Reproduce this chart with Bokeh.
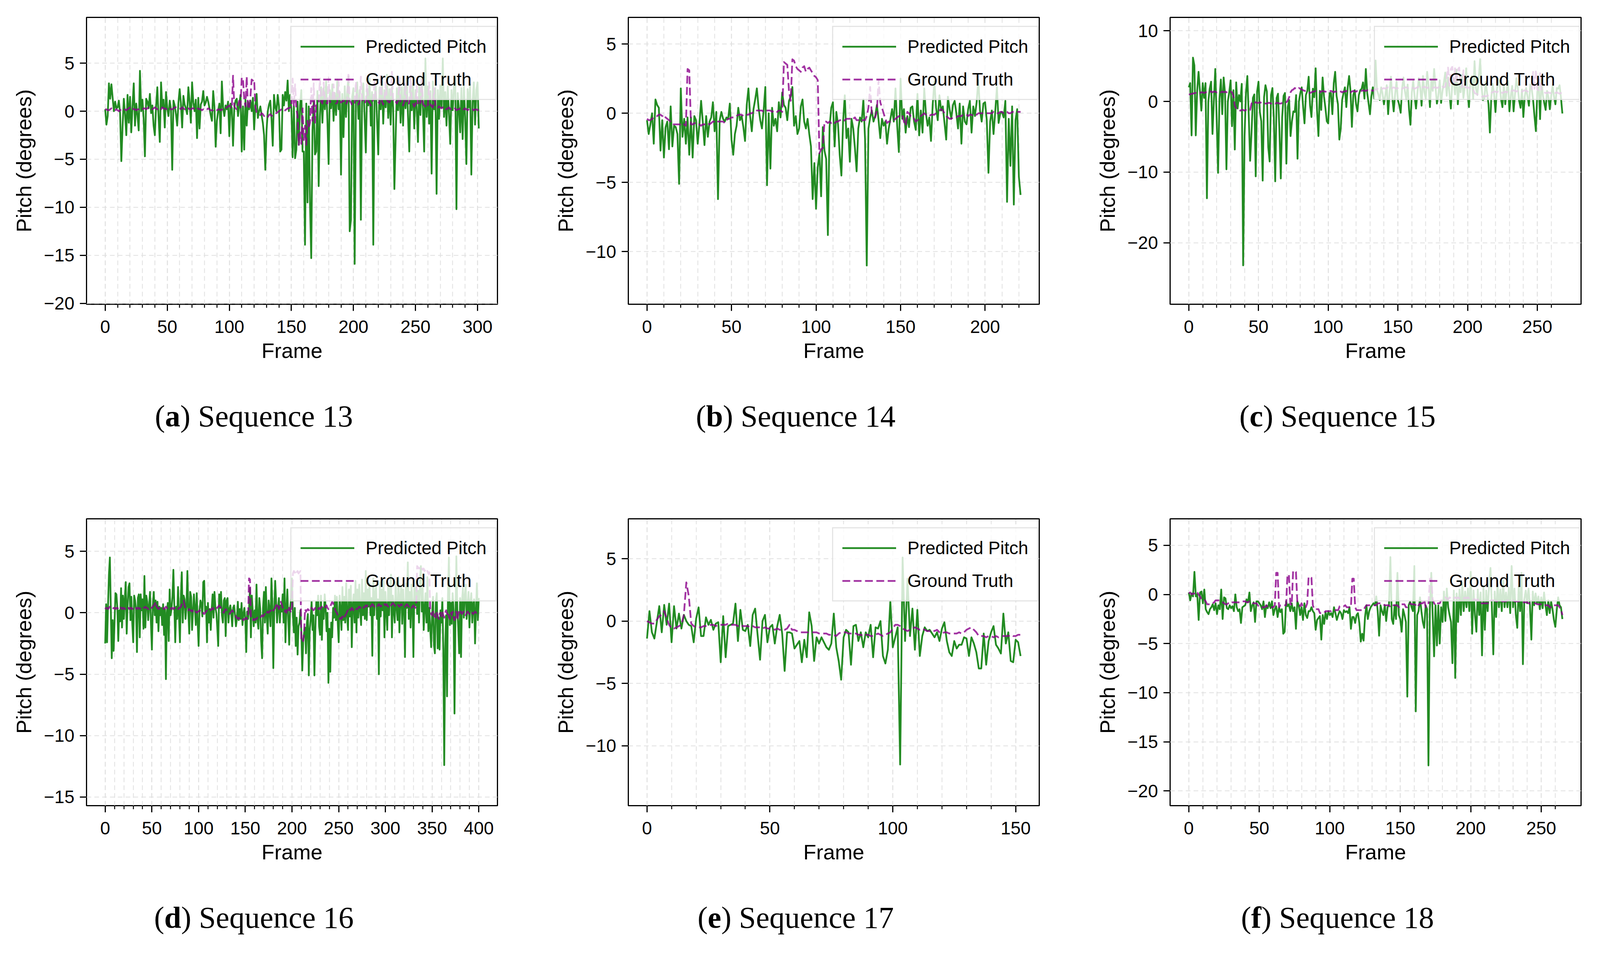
from bokeh.plotting import figure
from bokeh.layouts import column, row
from bokeh.models import FixedTicker, Legend, LegendItem, Div, CustomJSTickFormatter
from bokeh.embed import file_html
from bokeh.resources import INLINE

# ---- data (one value per frame) ----
seq13_pred = [
    0.2, -1.4, -0.5, 2.9, 1.3, 2.8, 1.4, 0.0, 1.0, 0.3,
    0.4, 1.1, -0.2, -5.2, -1.6, 1.3, -0.3, -2.5, 1.7, -1.2,
    1.5, -2.2, 0.5, 2.9, -1.5, 0.8, -0.4, -2.0, 4.2, 0.0,
    1.2, -0.8, -4.7, 1.3, 1.0, 0.3, 1.8, -0.2, 0.6, -1.5,
    -2.5, 0.5, 2.5, -0.6, -3.2, 3.0, 0.4, 1.2, -1.7, 2.0,
    0.3, -0.5, 1.1, 0.2, -6.1, 1.1, 0.6, -0.3, -1.5, 0.9,
    2.3, 0.8, -1.7, 1.6, 0.7, 0.3, -0.3, 2.5, 1.0, -1.2,
    3.0, 0.9, 0.0, 1.2, -2.8, 1.4, -1.8, 0.7, 1.0, 2.1,
    0.6, 0.9, 1.5, 1.0, 0.3, -0.4, -1.0, 2.1, 0.5, -3.7,
    -1.0, 0.0, 0.8, -2.3, 3.1, 0.4, -0.5, 0.6, 0.2, 1.0,
    -2.6, 0.8, 0.3, -3.6, 0.3, 1.1, 1.3, -0.5, 0.6, 1.7,
    -4.2, 0.5, -4.0, 1.2, -1.5, 1.0, 0.2, 1.1, 0.0, 1.4,
    -1.9, 0.6, 1.8, -0.7, 0.0, 0.5, -0.4, -1.2, -2.5, -6.1,
    -2.0, 0.0, 0.7, 1.1, -0.8, -3.6, 1.7, 0.4, 0.0, 1.7,
    0.5, -4.2, -4.0, 1.7, 0.6, 2.0, 1.1, 3.2, 0.0, 1.7,
    0.3, -4.8, 0.5, -4.9, -4.0, 1.0, -3.5, 0.6, 2.2, -4.2,
    -4.2, -13.9, 0.8, -9.5, 0.5, -9.5, -15.3, -2.0, 1.0, -4.5,
    -4.2, 2.1, -7.8, -0.5, 2.5, -1.2, 2.4, 0.2, 3.1, -0.8,
    -5.5, 2.2, 0.3, 2.8, -1.0, 1.9, -0.4, 3.3, 0.2, 2.0,
    -6.6, 1.8, -2.7, 2.6, -0.6, 2.1, 3.6, -12.5, -11.3, 1.5,
    2.4, -15.9, 1.0, 3.0, -0.8, 2.2, -11.3, 1.6, 2.9, -0.6,
    -4.3, 2.3, 0.6, 3.4, -1.5, 2.0, -13.9, 1.2, 2.7, -0.9,
    -4.5, 2.5, 0.2, 3.1, -1.3, 2.2, 0.4, 3.8, -0.7, 2.3,
    -1.4, 2.6, 0.4, -8.1, -2.8, 2.4, 0.1, 3.2, -1.2, 2.5,
    -1.5, 2.8, 0.3, 3.4, -0.6, -4.2, 2.6, 0.1, 2.9, -1.8,
    2.2, 0.3, -3.2, 2.7, -0.4, 3.5, 0.2, -4.2, 5.5, -0.6,
    2.6, -1.3, 2.1, -6.5, 3.1, 0.2, 2.4, -8.6, 2.2, -0.8,
    2.7, 0.4, 5.5, -0.6, 2.0, -1.5, 2.6, -0.3, -3.4, 2.2,
    0.1, 2.5, 3.6, -10.2, 1.9, 0.2, -2.2, 2.4, -2.9, 2.6,
    -0.6, -5.5, 2.3, 0.4, 2.8, -6.6, 0.9, 3.0, -1.4, 2.2,
    3.0, -1.8,
]
seq13_gt = [
    0.2, 0.2, 0.1, 0.1, 0.2, 0.3, 0.2, 0.1, 0.1, 0.2,
    0.1, 0.0, 0.1, 0.2, 0.1, 0.1, 0.2, 0.1, 0.2, 0.3,
    0.4, 0.5, 0.3, 0.2, 0.2, 0.1, 0.2, 0.2, 0.3, 0.2,
    0.2, 0.3, 0.3, 0.2, 0.3, 0.4, 0.3, 0.3, 0.2, 0.3,
    0.4, 0.3, 0.2, 0.2, 0.3, 0.2, 0.4, 0.3, 0.3, 0.2,
    0.3, 0.4, 0.3, 0.2, 0.2, 0.3, 0.4, 0.4, 0.3, 0.3,
    0.3, 0.2, 0.4, 0.3, 0.2, 0.2, 0.1, 0.3, 0.2, 0.2,
    0.3, 0.3, 0.2, 0.1, 0.2, 0.3, 0.2, 0.2, 0.1, 0.2,
    0.1, 0.2, 0.2, 0.3, 0.2, 0.1, 0.1, 0.1, 0.2, 0.1,
    0.1, 0.2, 0.2, 0.1, 0.2, 0.1, 0.2, 0.3, 0.4, 0.5,
    0.6, 0.4, 0.3, 3.7, 0.5, 0.3, 0.2, 0.6, 1.1, 0.4,
    3.5, 3.4, 1.3, 0.5, 3.6, 0.6, 0.2, 1.5, 3.3, 3.2,
    3.3, 0.4, -0.1, -0.2, -0.3, -0.4, -0.2, -0.3, -0.5, -0.4,
    -0.5, -0.6, -0.4, -0.3, -0.5, -0.4, -0.3, -0.2, -0.2, -0.1,
    0.0, 0.1, 0.2, 0.3, 0.2, 0.1, 0.2, 0.3, 0.3, 0.4,
    0.4, 3.4, 0.5, 2.8, 0.3, -0.5, -3.5, -2.2, -3.4, 0.3,
    -3.0, -1.5, -3.5, -1.0, -1.8, -1.2, 2.4, -1.0, 2.9, -1.2,
    0.6, 0.7, 0.9, 3.4, 1.0, 0.8, 3.0, 1.1, 0.9, 0.8,
    3.5, 1.0, 0.9, 1.2, 2.8, 1.0, 0.8, 0.9, 3.2, 1.1,
    0.9, 1.0, 1.2, 0.8, 0.7, 1.0, 4.0, 1.1, 0.9, 0.6,
    0.7, 0.9, 3.1, 0.8, 0.7, 1.0, 3.6, 1.2, 1.0, 0.8,
    1.1, 2.8, 1.0, 0.9, 0.6, 1.0, 1.2, 3.3, 1.4, 1.1,
    1.0, 0.8, 3.9, 1.0, 0.7, 1.1, 3.0, 1.2, 1.0, 0.9,
    1.3, 4.1, 1.2, 0.9, 1.0, 0.8, 1.1, 3.5, 0.9, 0.8,
    0.6, 1.0, 2.9, 0.8, 0.7, 0.9, 3.7, 1.1, 0.8, 0.5,
    0.7, 2.6, 0.8, 0.6, 0.9, 3.3, 0.8, 0.6, 0.5, 0.8,
    0.6, 3.0, 0.7, 0.5, 0.4, 2.4, 0.6, 0.4, 0.3, 0.5,
    0.4, 0.3, 0.4, 0.2, 0.3, 0.2, 0.3, 0.4, 0.2, 0.3,
    0.2, 0.2, 0.3, 0.1, 0.2, 0.2, 0.3, 0.2, 0.1, 0.2,
    0.3, 0.2, 0.1, 0.2, 0.2, 0.3, 0.2, 0.1, 0.2, 0.2,
    0.1, 0.2,
]

seq14_pred = [
    -0.5, -1.5, -0.8, 0.0, -2.2, 1.0, 0.6, 0.4, -2.7, -0.5,
    -3.2, -1.0, -0.6, -2.6, 0.5, -2.4, -0.9, -1.0, -1.5, -5.1,
    1.8, -1.7, -0.4, -2.2, -0.3, -3.0, -0.3, -3.2, -0.2, -0.5,
    -2.2, -0.8, 0.9, -0.6, -2.3, -0.2, -1.7, -0.6, -0.3, 0.8,
    -1.3, 0.1, -6.2, -0.5, 0.1, -0.4, -0.6, -0.3, -0.4, 0.7,
    -1.9, -3.0, -1.5, -0.9, 0.4, -0.5, -0.2, -1.0, -2.0, 0.6,
    1.8, -0.2, -1.3, 0.3, 1.0, 1.8, 0.4, -0.5, -1.1, 0.2,
    1.9, -5.2, 0.0, -4.0, 0.4, -0.9, -0.4, -1.3, 0.8, -0.3,
    1.5, 0.6, 0.4, -0.5, 0.9, 1.2, 1.9, -0.9, -0.2, -1.5,
    -1.1, 0.5, 1.0, -0.6, -1.1, -0.4, -1.5, -2.4, -6.2, -3.6,
    -6.9, -3.9, -2.9, -6.0, -1.0, -2.7, -3.3, -8.8, -1.0, 0.4,
    0.8, -2.4, 0.1, -0.8, -3.0, -4.5, -0.6, 1.3, -1.8, -1.1,
    -3.5, -0.4, -1.1, -2.5, -4.2, -1.1, -0.3, -0.6, 1.0, -1.9,
    -11.0, -1.1, -0.3, 0.2, -0.6, -0.2, 0.6, -0.5, -1.8, -0.4,
    -0.9, -0.6, -2.2, -1.1, -0.4, 0.3, -0.6, 1.8, -0.9, -2.8,
    2.5, -0.4, 0.3, -1.4, -0.2, -1.0, 0.4, 0.5, -0.6, -1.2,
    1.4, -1.6, 0.2, -1.4, 1.8, 0.0, -0.9, -0.3, -2.0, 0.6,
    2.3, 0.4, -0.5, 1.3, 0.2, 0.5, -0.7, -1.9, 1.2, 0.3,
    -0.4, 0.6, 0.9, 0.0, -1.1, 0.7, -2.2, 0.5, -0.6, -0.8,
    0.3, 0.9, -1.4, 0.5, -0.2, 0.8, 2.4, 0.2, -0.6, 0.7,
    0.8, -0.5, -4.3, -0.6, 0.2, -1.5, 0.1, 1.9, -0.7, 0.0,
    0.1, -0.3, 0.9, -6.4, -0.4, -3.8, 0.5, -6.6, -0.5, 0.3,
    -4.6, -5.9,
]
seq14_gt = [
    -0.4, -0.5, -0.5, -0.4, -0.3, -0.2, -0.2, -0.1, -0.1, -0.2,
    -0.1, -0.3, -0.4, -0.5, -0.6, -0.8, -0.8, -0.8, -0.8, -0.8,
    -0.8, -0.9, -0.8, -0.9, 3.2, 3.1, -0.8, -0.8, -0.7, -0.8,
    -0.8, -0.8, -0.9, -0.8, -0.8, -0.8, -0.7, -0.8, -0.7, -0.6,
    -0.6, -0.5, -0.6, -0.6, -0.6, -0.6, -0.7, -0.5, -0.4, -0.4,
    -0.3, -0.3, -0.3, -0.2, -0.1, -0.1, -0.1, -0.2, -0.1, -0.1,
    -0.1, 0.0, 0.0, 0.1, 0.1, 0.2, 0.2, 0.2, 0.2, 0.1,
    0.1, 0.2, 0.2, 0.2, 0.1, 0.2, 0.2, 0.1, 0.2, 0.2,
    0.1, 3.7, 3.6, 3.5, 1.6, 0.9, 3.9, 3.8, 3.4, 3.2,
    3.1, 3.0, 3.3, 3.4, 3.0, 3.2, 3.3, 3.1, 2.9, 2.7,
    2.6, 2.4, -2.9, -2.6, -2.5, -0.6, -0.6, -0.7, -0.6, -0.7,
    -0.6, -0.7, -0.6, -0.6, -0.5, -0.5, -0.6, -0.5, -0.4, -0.4,
    -0.4, -0.3, -0.4, -0.3, -0.5, -0.5, -0.4, -0.5, -0.5, -0.5,
    -0.2, 0.4, 1.9, -0.1, -0.2, -0.3, 0.2, 2.4, 0.8, 0.4,
    0.0, -0.4, -0.7, -0.6, -0.6, -0.5, -0.5, -0.4, -0.3, -0.2,
    -0.2, -0.1, -0.6, -0.9, 0.1, 0.0, -0.2, -0.2, -0.4, -0.6,
    -0.5, -0.4, -0.2, -0.1, 0.0, -0.1, -0.1, -0.2, -0.1, -0.1,
    -0.1, 0.0, 0.1, 0.2, 0.3, 0.2, 0.0, -0.2, -0.3, -0.4,
    -0.4, -0.3, -0.3, -0.3, -0.2, -0.2, -0.2, -0.1, -0.1, -0.1,
    -0.2, -0.1, -0.1, -0.2, -0.1, -0.1, 0.0, 0.0, 0.0, 0.0,
    0.0, 0.0, 0.0, 0.0, 0.0, 0.1, 0.0, 0.0, 0.0, 0.1,
    0.1, 0.0, 0.1, 0.1, 0.0, 0.0, 0.1, 0.1, 0.1, 0.1,
    0.1, 0.1,
]

seq15_pred = [
    2.0, 2.6, -4.8, 6.2, 5.1, -4.8, 1.5, 4.2, 1.5, -1.3,
    2.6, 0.5, 2.6, -13.7, 0.0, 1.8, 2.8, -4.6, 0.2, 4.6,
    -2.5, -10.1, 0.4, 3.1, -1.8, 3.4, 1.2, -9.6, 0.0, 1.3,
    3.0, -3.5, 1.6, -6.8, 2.7, -1.0, 0.9, 0.0, 2.5, -23.2,
    -4.9, 1.2, 3.6, -2.0, -8.4, -4.4, 0.5, 1.0, -10.6, 1.4,
    2.8, -1.5, -2.8, -11.2, 0.6, 2.3, 1.4, -6.5, -8.5, 0.9,
    1.9, -2.3, -11.3, 0.5, 1.1, -4.0, -10.9, -2.2, 0.8, 1.2,
    -8.8, -0.8, 0.2, -4.9, -2.8, -1.4, -1.5, 0.9, -8.1, 0.0,
    1.2, 2.0, -0.7, -3.1, 0.9, 1.5, 3.5, -0.6, -2.2, 1.8,
    0.6, 4.7, -1.3, -4.9, 1.5, -1.2, 3.4, 0.7, -0.9, -2.8,
    -3.1, 1.2, 1.2, -1.8, 2.6, 4.2, 0.8, -0.4, -5.4, -3.8,
    0.2, 1.2, 2.0, -0.8, 2.0, 3.6, 1.5, -3.6, 0.9, 1.6,
    -0.4, -1.4, 0.9, 1.6, 1.8, 2.7, 0.4, 4.6, 1.2, -0.3,
    -1.8, 0.8, 2.0, 0.4, 5.8, 1.6, 1.0, 0.2, 2.0, 1.1,
    -0.4, 0.9, 2.3, -1.8, 1.2, 3.5, 0.6, -1.4, 1.0, 2.8,
    0.2, -0.5, -1.6, 1.8, 3.4, 1.5, 0.3, 2.4, -1.1, -3.3,
    1.3, 2.9, 0.7, -1.0, 1.2, 3.3, 2.0, -0.6, 3.6, 1.3,
    0.4, 4.2, 2.2, -0.8, 3.1, 1.5, 4.6, 2.0, -0.3, 0.8,
    3.0, -0.2, 1.5, 2.7, 4.1, 0.8, 3.4, 1.1, -1.0, 2.5,
    3.3, 1.0, 4.5, -0.4, 2.2, 1.3, 3.8, 0.5, 2.1, 4.7,
    1.0, -0.8, 2.9, 3.6, 0.4, 5.7, 1.8, 0.9, 3.2, 6.0,
    2.1, 0.2, 0.4, 2.8, 1.2, -0.4, -4.4, 0.6, 2.5, 1.1,
    -1.5, 1.6, 3.2, 2.6, 0.3, -0.8, 2.4, -0.4, 1.5, 2.9,
    -1.4, 0.8, 2.2, -1.4, 1.0, 3.3, 2.0, 0.1, -0.9, 1.7,
    -2.2, 0.7, 1.9, 0.7, -0.6, 2.4, 1.8, 0.2, -2.1, -4.2,
    1.3, 2.6, -2.5, 3.1, 0.9, -0.2, -1.2, 1.5, 0.6, -1.1,
    0.8, 2.2, 0.7, -0.4, 1.9, 1.8, 2.3, 0.5, -1.7,
]
seq15_gt = [
    1.0, 1.0, 1.1, 1.1, 1.2, 1.2, 1.1, 1.2, 1.2, 1.3,
    1.3, 1.2, 1.3, 1.4, 1.3, 1.4, 1.4, 1.3, 1.4, 1.4,
    1.3, 1.4, 1.4, 1.3, 1.4, 1.3, 1.4, 1.3, 1.4, 1.3,
    1.4, 1.3, 0.8, -0.6, -1.0, -1.2, -1.2, -1.3, -1.2, -1.2,
    -1.3, -1.2, -1.2, -1.1, -1.2, -0.3, 0.0, -0.2, -0.1, -0.2,
    -0.2, -0.1, -0.2, -0.3, -0.2, -0.3, -0.3, -0.2, -0.2, -0.3,
    -0.3, -0.2, -0.3, -0.2, -0.2, -0.3, -0.3, -0.2, -0.1, -0.2,
    -0.1, 0.1, 0.6, 1.3, 1.6, 1.7, 1.9, 1.8, 1.7, 1.9,
    1.8, 1.7, 1.6, 1.5, 1.5, 1.4, 1.3, 1.2, 1.3, 1.4,
    1.4, 1.5, 1.4, 1.4, 1.3, 1.4, 1.5, 1.4, 1.4, 1.3,
    1.4, 1.4, 1.5, 1.4, 1.3, 1.4, 1.4, 1.5, 1.4, 1.4,
    1.3, 1.4, 1.4, 1.5, 1.4, 1.4, 1.3, 1.4, 1.5, 1.4,
    1.4, 1.5, 1.5, 1.4, 1.5, 1.6, 1.5, 1.5, 1.6, 1.5,
    1.6, 1.6, 1.5, 1.6, 1.7, 1.8, 1.7, 1.8, 1.9, 1.8,
    1.9, 1.8, 1.9, 2.0, 1.9, 1.8, 1.9, 2.0, 1.9, 1.8,
    1.9, 2.0, 1.9, 1.8, 1.9, 2.0, 2.0, 1.9, 1.8, 1.9,
    2.0, 1.9, 1.8, 1.9, 2.0, 2.1, 2.0, 1.9, 2.0, 2.1,
    2.0, 1.9, 2.0, 2.1, 2.0, 1.9, 2.0, 2.0, 1.9, 2.0,
    2.0, 1.9, 2.1, 2.0, 2.1, 3.5, 4.8, 2.2, 4.6, 4.9,
    2.3, 4.7, 2.5, 4.5, 4.8, 2.2, 2.0, 4.4, 2.1, 2.0,
    1.9, 2.0, 1.8, 1.9, 1.7, 1.2, 1.1, 1.0, 0.9, 0.8,
    0.7, 0.7, 0.8, 0.7, 0.8, 0.9, 1.0, 1.2, 1.3, 1.4,
    1.4, 1.3, 1.4, 1.2, 1.3, 1.2, 1.3, 1.4, 1.3, 1.4,
    1.5, 1.4, 1.5, 1.6, 1.5, 1.4, 1.5, 1.6, 1.5, 1.4,
    1.5, 1.6, 1.5, 1.4, 1.5, 1.6, 1.7, 4.2, 1.8, 4.5,
    1.7, 1.6, 4.0, 1.5, 1.4, 1.3, 1.2, 1.2, 1.3, 1.2,
    1.2, 1.3, 1.2, 1.2, 1.3, 1.2, 1.1, 1.2, 1.2,
]

seq16_pred = [
    -2.5, 0.7, -2.4, 0.5, 3.1, 4.5, 0.4, -3.7, -0.6, -3.1,
    -0.8, 1.6, 1.5, 0.4, -2.3, 0.2, -0.7, 2.0, -1.2, 1.4,
    -0.5, 1.1, 2.5, -1.7, 0.6, 2.1, 2.4, -0.6, 1.3, -0.9,
    -2.4, 1.4, 1.0, 0.3, -3.2, 1.2, 1.5, -2.0, 1.5, 0.2,
    1.1, -1.3, 3.0, -1.2, 1.4, 0.9, -0.6, 0.6, 1.7, -0.9,
    -3.0, 0.6, 1.7, -0.2, 1.0, -0.8, 0.9, -1.5, 0.5, -0.2,
    0.4, -1.0, 0.7, -1.8, 0.3, -5.4, 0.0, 0.8, -2.3, 1.9,
    -0.2, 0.3, 1.3, 3.5, 0.6, -2.4, 0.5, -0.5, 2.1, -0.2,
    -2.4, 1.2, 3.3, -0.8, 1.4, 1.1, -0.5, 0.5, 3.4, 0.1,
    -1.7, 1.7, 1.3, -1.4, 0.1, 1.5, 0.4, -1.0, 1.6, -0.8,
    -2.7, 0.2, 1.0, 0.7, -0.3, 2.5, 2.6, 0.1, 0.5, -2.4,
    0.8, -0.8, 0.3, -1.4, 0.3, 1.5, -0.4, 1.7, 0.4, 0.0,
    -1.2, -2.7, 1.5, 0.4, 1.7, -0.2, -0.8, 1.0, 1.2, -1.9,
    1.0, 1.2, -0.8, 0.3, 0.6, -0.1, -1.1, 0.4, 0.6, -0.2,
    -1.1, -0.5, 0.9, -0.6, 0.3, -0.5, 0.8, -1.0, -0.1, 0.4,
    -0.5, -3.2, 0.1, -0.5, 0.3, 2.0, -2.0, 1.4, 0.1, -1.1,
    0.2, -0.8, 2.3, -0.6, -1.3, 1.2, 0.3, -2.3, -3.7, 0.4,
    1.7, -0.8, 2.1, -0.3, -1.7, 1.0, 0.2, -1.1, 2.8, 0.6,
    -4.5, 0.2, 2.6, 0.9, -0.8, 0.4, 1.2, -0.8, 0.6, 0.1,
    1.5, -0.8, 2.8, -2.4, 0.3, 1.9, -0.5, -2.6, 0.4, 1.1,
    2.8, -0.2, -1.6, 0.4, -2.7, -0.4, -3.4, -1.1, -0.8, 0.2,
    -1.6, -4.7, -2.3, -1.6, -1.2, -3.3, -0.8, -0.1, -5.1, -1.4,
    -0.5, 0.9, -1.4, -0.2, -5.1, -1.4, 0.9, -0.2, 1.4, -1.1,
    -1.8, 1.4, -2.2, 0.4, -0.5, 1.5, 0.5, -1.5, 0.0, -5.7,
    -1.3, -4.8, -0.8, -2.0, 0.4, -0.4, 1.4, -0.6, 1.3, -0.8,
    -2.4, 1.4, 0.2, -1.4, 2.1, -0.6, 1.3, -0.8, 2.4, -0.3,
    -1.4, 1.9, -0.3, 2.2, -2.8, 0.6, 1.5, -0.8, 2.6, -1.6,
    1.9, -0.4, 2.3, 0.2, -1.0, 2.7, -0.2, 1.6, -0.5, 3.4,
    -0.6, 1.9, 0.5, 2.4, -0.2, 1.2, -3.5, 2.8, -0.2, 1.6,
    2.2, -0.5, 1.1, -5.0, 2.5, -0.3, 1.9, 0.2, 2.6, -2.0,
    1.7, 0.2, -1.4, 2.4, -0.2, 1.8, 3.1, -2.0, 1.4, 0.3,
    -0.8, 2.5, 0.4, -0.6, 2.9, -1.6, 1.3, 2.2, -0.9, 1.9,
    0.5, -3.6, 2.4, 0.4, 4.1, -0.5, 1.7, -1.2, 2.3, 0.7,
    -3.6, 2.0, 0.6, 2.7, -0.1, 1.8, -0.8, 2.6, 3.8, 0.1,
    2.0, -1.4, 0.3, 1.6, -0.8, 2.9, -1.5, 0.4, -1.3, -2.8,
    -0.2, 1.3, -2.6, -3.3, 0.9, 1.6, -2.9, -0.4, -3.0, 0.2,
    -0.8, 1.2, -3.0, -12.4, -3.0, -0.2, -6.8, 1.4, 4.5, -1.0,
    0.8, -0.9, 1.6, 0.2, -8.2, -0.6, 4.6, 0.3, -1.2, -3.3,
    1.2, -3.6, 0.9, 2.0, -0.4, 1.4, 2.3, -0.5, 0.4, 1.7,
    -1.2, 0.9, 1.6, -0.8, 0.7, 1.1, -2.5, 0.2, 2.4, -0.6,
    1.2,
]
seq16_gt = [
    0.3, 0.4, 0.4, 0.3, 0.4, 0.5, 0.4, 0.3, 0.3, 0.4,
    0.4, 0.3, 0.4, 0.4, 0.3, 0.4, 0.5, 0.4, 0.3, 0.4,
    0.4, 0.3, 0.4, 0.5, 0.4, 0.4, 0.3, 0.4, 0.4, 0.3,
    0.4, 0.4, 0.5, 0.4, 0.3, 0.4, 0.4, 0.3, 0.4, 0.4,
    0.3, 0.4, 0.4, 0.5, 0.4, 0.4, 0.3, 0.4, 0.3, 0.4,
    0.4, 0.5, 0.6, 0.7, 0.9, 0.5, 0.4, 0.3, 0.4, 0.4,
    0.3, 0.4, 0.4, 0.3, 0.4, 0.5, 0.4, 0.3, 0.4, 0.4,
    0.3, 0.4, 0.4, 0.3, 0.4, 0.4, 0.5, 0.4, 0.3, 0.4,
    0.4, 0.5, 0.7, 0.9, 1.0, 0.6, 0.4, 0.3, 0.3, 0.2,
    0.3, 0.2, 0.2, 0.1, 0.2, 0.1, 0.0, 0.1, 0.0, 0.1,
    0.1, 0.2, 0.1, 0.0, -0.1, 0.0, -0.1, 0.0, 0.1, 0.2,
    0.3, 0.4, 0.3, 0.2, 0.3, 0.4, 0.3, 0.2, 0.3, 0.4,
    0.4, 0.5, 0.6, 0.5, 0.4, 0.2, 0.1, 0.0, 0.2, 0.3,
    0.2, 0.1, 0.0, -0.1, 0.0, 0.1, 0.2, 0.1, 0.0, -0.1,
    -0.3, -0.4, -0.5, -0.4, -0.5, -0.6, -0.5, -0.5, -0.6, -0.5,
    -0.5, -0.4, -0.5, -0.4, 2.8, 2.7, -0.4, -0.5, -0.6, -0.5,
    -0.6, -0.5, -0.5, -0.4, -0.4, -0.3, -0.4, -0.3, -0.2, -0.3,
    -0.2, -0.1, -0.2, 0.0, 0.1, 0.0, 0.1, 0.2, 0.1, 0.0,
    0.2, 0.3, 0.4, 0.6, 0.8, 0.5, 0.3, 0.6, 0.9, 0.7,
    0.4, 0.3, 0.1, 0.2, 0.0, 0.3, 0.1, 0.4, 0.2, 0.0,
    0.5, 3.2, 3.4, 3.3, 3.1, 3.3, 3.4, 3.2, 3.3, 3.4,
    -2.3, -2.2, -2.3, -1.5, 0.3, 0.1, 0.2, 0.3, 0.2, 0.3,
    0.2, 0.4, 0.3, 0.2, 0.3, 0.4, 0.3, 0.2, 0.3, 0.4,
    0.3, 0.4, 0.5, 0.4, 0.3, 0.4, 0.5, 0.6, 0.4, 0.3,
    0.4, 0.5, 0.7, 0.9, 0.8, 0.5, 0.3, 0.1, 0.0, -0.2,
    -0.3, -0.5, -0.4, -0.5, -0.3, -0.4, -0.5, -0.2, -0.1, 0.1,
    0.2, 0.1, 0.3, 0.2, 0.4, 0.3, 0.2, 0.3, 0.4, 0.3,
    0.3, 0.4, 0.5, 0.4, 0.5, 0.6, 0.5, 0.4, 0.5, 0.6,
    0.5, 0.6, 0.5, 0.6, 0.5, 0.6, 0.7, 0.6, 0.5, 0.6,
    0.6, 0.5, 0.6, 0.7, 0.6, 0.5, 0.6, 0.7, 0.8, 0.7,
    0.6, 0.7, 0.6, 0.5, 0.6, 0.7, 0.6, 0.7, 0.8, 0.7,
    0.6, 0.5, 0.6, 0.7, 0.6, 0.5, 0.6, 0.7, 0.6, 0.5,
    0.6, 0.5, 0.6, 0.7, 0.6, 0.5, 0.6, 0.5, 0.4, 0.5,
    0.6, 0.5, 0.4, 0.5, 3.8, 3.7, 3.6, 3.7, 3.8, 3.6,
    3.5, 3.6, 3.4, 3.5, 3.3, 3.4, 3.2, 3.3, 0.2, -0.1,
    -0.2, 0.1, -0.3, -0.1, -0.4, 0.0, -0.2, -0.5, -0.1, 0.0,
    -0.3, 0.1, -0.2, -0.4, 0.0, 0.2, -0.1, 0.1, -0.3, -0.5,
    0.0, -0.2, 0.1, -0.4, -0.6, -0.2, 0.1, -0.6, -0.1, 0.2,
    0.0, 0.1, -0.1, 0.0, 0.1, 0.0, -0.2, 0.0, 0.1, 0.0,
    -0.1, 0.0, 0.1, 0.0, -0.1, 0.0, 0.1, 0.0, -0.1, 0.0,
    -0.1,
]

seq17_pred = [
    -1.4, 0.8, -0.9, -1.4, -0.1, 1.2, -0.9, 1.3, -0.3, 1.4,
    -1.7, 1.2, -0.6, 0.6, -0.6, 0.5, 0.0, -0.3, -0.4, -1.7,
    0.2, 1.1, -1.2, -1.2, 0.3, -0.3, 0.1, -0.7, -0.2, -0.1,
    -3.3, 0.4, -2.9, -0.4, -0.3, -0.2, 1.4, -1.6, 0.9, -0.7,
    -0.8, -0.3, -2.0, 0.5, 1.0, -1.1, -3.1, 0.0, 0.5, -1.7,
    -0.5, -0.3, -1.8, -0.4, 0.5, -1.0, -4.0, -0.9, -0.9, -1.0,
    -2.2, -1.9, -1.6, -3.3, -1.5, -2.9, 0.7, -0.4, -3.2, -1.3,
    -1.8, -1.3, -1.7, -2.1, -2.3, -1.8, 0.6, -2.1, -3.2, -4.7,
    -1.3, -0.7, -0.9, -3.5, -0.4, -0.3, -1.6, -0.9, -2.1, -0.9,
    -1.3, -0.3, -2.9, -0.5, -0.6, 0.0, -2.8, -3.4, -2.3, 1.6,
    -2.1, -1.3, -0.5, -11.5, 5.1, -1.6, 3.4, -1.2, 1.0, -2.3,
    0.9, -2.8, -1.2, -0.5, -0.8, -0.7, -1.0, -1.3, -0.9, -1.6,
    -0.6, -0.1, -1.6, -2.5, -2.8, -1.6, -2.2, -1.9, -1.9, -1.3,
    -1.4, -2.8, -1.3, -1.8, -2.5, -3.8, -3.8, -1.0, -3.5, -1.6,
    -0.9, -0.4, -1.9, -2.2, -2.6, 0.6, -1.8, -0.9, -3.2, -3.3,
    -1.5, -1.7, -2.8,
]
seq17_gt = [
    0.0, -0.1, -0.2, -0.2, 0.1, 0.4, 0.5, 0.8, 0.2, -0.3,
    -0.6, -0.6, -0.5, -0.4, -0.3, 0.5, 3.1, 2.0, -0.2, -0.4,
    -0.5, -0.5, -0.5, -0.4, -0.4, -0.4, -0.3, -0.3, -0.4, -0.3,
    -0.3, -0.3, -0.3, -0.2, -0.3, -0.3, -0.3, -0.4, -0.3, -0.4,
    -0.4, -0.4, -0.5, -0.4, -0.5, -0.5, -0.5, -0.6, -0.5, -0.6,
    -0.6, -0.6, -0.7, -0.6, -0.7, -0.7, -0.7, -0.6, -0.3, -0.7,
    -0.7, -0.8, -0.9, -0.9, -0.9, -0.9, -0.9, -0.9, -0.9, -0.9,
    -1.0, -1.0, -1.0, -1.0, -1.1, -1.1, -1.1, -1.2, -1.0, -0.9,
    -0.9, -0.9, -1.0, -1.0, -1.0, -1.0, -1.1, -1.1, -1.2, -1.1,
    -1.1, -1.2, -1.2, -1.1, -1.0, -1.1, -1.2, -1.1, -1.0, -0.9,
    -0.6, -0.3, -0.3, -0.4, -0.6, -0.7, -0.8, -0.7, -0.6, -0.5,
    -0.6, -0.7, -0.6, -0.7, -0.8, -0.8, -0.7, -0.8, -0.7, -0.9,
    -1.0, -0.9, -0.9, -1.0, -1.0, -1.0, -1.0, -0.9, -1.0, -0.9,
    -0.7, -0.6, -0.5, -0.7, -0.9, -1.2, -1.2, -1.2, -1.3, -1.2,
    -1.2, -1.3, -1.2, -1.3, -1.2, -1.2, -1.2, -1.2, -1.1, -1.2,
    -1.2, -1.1, -1.1,
]

seq18_pred = [
    0.2, -0.6, 0.1, -0.2, 2.3, -0.2, 0.0, -2.6, 0.2, 0.3,
    -0.9, 0.5, -1.5, -1.8, -2.0, -1.5, -1.3, -1.0, -1.6, -0.9,
    -2.0, -1.1, -1.5, 0.5, -2.5, -0.3, -0.4, -1.4, -1.5, -1.1,
    -1.4, -1.2, -1.7, 0.0, -1.3, -1.7, -1.5, -2.9, -1.3, -1.2,
    -1.1, -0.5, -0.8, 0.2, -1.7, -1.1, -0.8, -2.8, -0.7, -0.7,
    -0.9, -1.1, -1.5, -0.7, -2.3, -1.1, -1.4, -0.8, -1.4, -0.7,
    -2.1, -1.5, -1.2, -2.3, -1.3, -1.8, -1.5, -4.0, -3.8, -0.7,
    -1.2, -1.0, -1.7, -0.9, -1.7, -1.3, -3.5, -0.7, -1.1, -2.1,
    -1.3, -2.6, -0.9, -2.1, -2.4, -1.7, -1.7, -1.3, -1.7, -1.9,
    -3.6, -2.6, -2.4, -2.2, -4.6, -2.1, -3.0, -1.8, -2.5, -1.7,
    -2.1, -1.9, -2.3, -1.3, -1.9, -2.6, -2.1, -1.7, -1.9, -2.5,
    -1.6, -1.8, -1.7, -1.9, -1.3, -3.5, -2.3, -2.3, -2.9, -2.1,
    -1.9, -2.9, -4.8, -4.0, -4.7, -2.3, -1.1, -2.5, -1.7, -1.3,
    -1.1, -0.9, -1.1, -0.2, -1.7, -4.2, -1.1, -1.7, -2.1, -1.1,
    -2.7, -1.3, -1.1, 3.8, -2.5, -3.0, -1.1, -2.5, 2.2, -2.1,
    -2.5, -3.8, -1.5, -2.1, -2.8, -10.4, -1.1, -0.7, -1.3, -1.7,
    2.9, -11.9, -2.1, -1.7, -0.3, -1.7, -2.8, -3.4, -1.1, -1.5,
    -17.4, -1.5, 2.2, -2.1, -6.3, -1.1, -5.2, -1.1, -5.0, -1.3,
    -2.8, 0.3, -2.7, 0.6, -1.3, -2.1, -2.8, -7.0, 0.4, -8.5,
    0.1, -2.8, 0.5, -2.1, 1.2, -1.7, 0.3, -1.3, 0.6, -1.7,
    2.3, -4.0, 0.4, -2.1, -3.8, 0.5, -2.1, 0.2, -6.2, 0.8,
    -3.6, 0.4, -1.7, 0.9, 2.7, -1.3, -6.1, 0.3, -2.3, 1.1,
    -1.3, 0.5, -1.7, 1.4, -1.3, 0.2, -1.3, 0.7, -1.9, 2.9,
    -1.3, 0.6, -2.1, -3.4, 0.8, -1.7, 2.2, -7.1, -0.5, 0.4,
    -0.9, 0.6, -1.1, -4.6, 0.3, -1.1, 0.1, -0.9, -0.2, -1.5,
    -0.3, -1.4, 0.2, -1.1, -2.1, -0.6, -1.9, -0.7, -1.5, -2.6,
    -3.3, -1.6, -0.3, -1.1, -1.3, -2.5,
]
seq18_gt = [
    0.1, 0.2, 0.0, 0.1, 0.1, 0.3, 0.2, 0.0, -0.2, -0.5,
    -0.5, -0.5, -0.7, -1.0, -1.0, -1.0, -1.0, -0.9, -0.8, -0.6,
    -0.6, -0.6, -0.6, -0.7, -0.8, -0.9, -1.0, -1.0, -0.9, -0.8,
    -0.9, -0.8, -0.8, -0.8, -0.8, -0.8, -0.8, -0.7, -0.7, -0.7,
    -0.7, -0.8, -0.8, -0.7, -0.7, -0.9, -0.9, -0.9, -0.9, -1.1,
    -1.3, -1.3, -1.3, -1.3, -1.3, -1.1, -1.3, -1.3, -1.3, -1.3,
    -1.3, -1.1, 2.2, 2.2, -1.3, -1.1, -1.1, -1.1, -1.1, -1.1,
    2.0, 2.0, -0.9, -1.1, 2.4, 2.4, 2.3, -0.8, -0.9, -1.2,
    -0.9, -1.3, -1.3, -1.3, -0.9, 1.8, 1.8, 1.7, -1.1, -1.5,
    -1.5, -1.5, -1.5, -1.9, -1.9, -1.9, -1.9, -1.7, -1.7, -1.7,
    -1.7, -1.7, -1.6, -1.6, -1.6, -1.6, -1.6, -1.2, -1.2, -1.2,
    -1.2, -1.1, -1.3, -1.3, -1.3, -1.3, 1.6, 1.6, -1.3, -1.6,
    -1.6, -1.6, -1.6, -1.6, -1.6, -1.3, -1.1, -1.1, -1.1, -1.1,
    -1.1, -1.1, -1.1, -1.1, -0.9, -0.9, -0.9, -0.9, -1.0, -1.1,
    -1.1, -1.1, -1.1, -1.3, -1.1, -1.1, -1.1, -1.1, -1.1, -1.3,
    -1.1, -1.0, -1.0, -1.0, -1.3, -1.3, -1.2, -0.9, -1.0, -1.0,
    -1.0, -1.1, -1.3, -1.1, -0.9, -0.9, -0.9, -0.5, -1.3, -1.1,
    -1.0, 1.6, 1.6, -0.5, -0.9, -1.1, -0.9, -0.9, -0.9, -0.6,
    -0.6, -0.3, -0.3, -0.4, -0.5, -0.3, -0.4, -0.5, -0.4, -0.3,
    -0.4, -0.3, -0.4, -0.3, -0.4, -0.4, -0.3, -0.4, -0.3, -0.4,
    -0.4, -0.5, -0.5, -0.5, -0.6, -0.5, -0.9, -0.9, -0.9, -0.9,
    -0.9, -0.9, -0.9, -0.6, -0.6, -0.6, -0.6, -0.6, -0.7, -0.7,
    -0.7, -0.7, -0.7, -0.7, -0.7, -0.7, -0.6, -0.6, -0.6, -0.6,
    -0.6, -0.7, -0.7, -0.7, -0.7, -0.7, -0.8, -0.8, -0.8, -0.8,
    -0.8, -0.9, -0.9, -0.9, -0.9, -0.9, -0.9, -1.0, -1.0, -1.0,
    -1.0, -1.1, -1.1, -1.1, -1.1, -1.1, -1.3, -1.3, -1.3, -1.1,
    -1.1, -1.1, -1.1, -1.3, -1.5, -2.1,
]

panel_letters = ["a", "b", "c", "d", "e", "f"]
sequence_ids = [13, 14, 15, 16, 17, 18]
y_limits = [(-20.1, 9.77), (-13.8, 6.93), (-28.7, 11.9), (-15.7, 7.65), (-14.8, 8.2), (-21.5, 7.7)]
y_tick_values = [
    [-20, -15, -10, -5, 0, 5],
    [-10, -5, 0, 5],
    [-20, -10, 0, 10],
    [-15, -10, -5, 0, 5],
    [-10, -5, 0, 5],
    [-20, -15, -10, -5, 0, 5],
]
x_tick_values = [
    [0, 50, 100, 150, 200, 250, 300],
    [0, 50, 100, 150, 200],
    [0, 50, 100, 150, 200, 250],
    [0, 50, 100, 150, 200, 250, 300, 350, 400],
    [0, 50, 100, 150],
    [0, 50, 100, 150, 200, 250],
]

GREEN = "#228B22"
PURPLE = "#8B008B"
GRID = "#e0e0e0"
SANS = "Liberation Sans"

FRAME_W, FRAME_H = 1052, 734
BORDER_L = 221
COL_W = [1387, 1387, 1283]
LEG_W, LEG_H = 528, 176


def make_panel(pred, gt, ylim, yticks, xticks, col_w):
    n = len(pred) - 1
    pad = n * 0.05
    p = figure(frame_width=FRAME_W, frame_height=FRAME_H,
               x_range=(-pad, n + pad), y_range=ylim,
               min_border_left=BORDER_L, min_border_right=col_w - BORDER_L - FRAME_W,
               min_border_top=44, min_border_bottom=170,
               x_axis_label="Frame", y_axis_label="Pitch (degrees)",
               output_backend="svg", toolbar_location=None)
    p.background_fill_color = "white"
    p.border_fill_color = "white"
    p.outline_line_color = "black"
    p.outline_line_width = 3

    r_pred = p.line(list(range(len(pred))), pred, line_color=GREEN, line_width=4.5,
                    line_join="round")
    r_gt = p.line(list(range(len(gt))), gt, line_color=PURPLE, line_alpha=0.8,
                  line_width=4.5, line_dash="20 9", line_join="round")

    p.xaxis.ticker = FixedTicker(ticks=xticks, minor_ticks=list(range(0, n + 1, 10)))
    p.yaxis.ticker = FixedTicker(ticks=yticks)
    p.yaxis.formatter = CustomJSTickFormatter(
        code="return tick < 0 ? '\u2212' + Math.abs(tick) : String(tick);")

    p.axis.axis_line_color = None
    p.axis.major_tick_line_color = "black"
    p.axis.major_tick_line_width = 3
    p.axis.major_tick_in = 0
    p.axis.major_tick_out = 17
    p.xaxis.minor_tick_line_color = "black"
    p.xaxis.minor_tick_line_width = 2.5
    p.xaxis.minor_tick_in = 0
    p.xaxis.minor_tick_out = 9
    p.yaxis.minor_tick_line_color = None
    p.axis.major_label_text_font = SANS
    p.axis.major_label_text_font_size = "46px"
    p.axis.major_label_text_color = "black"
    p.axis.axis_label_text_font = SANS
    p.axis.axis_label_text_font_size = "54px"
    p.axis.axis_label_text_font_style = "normal"
    p.axis.axis_label_text_color = "black"
    p.xaxis.major_label_standoff = 24
    p.xaxis.axis_label_standoff = 12
    p.yaxis.major_label_standoff = 14
    p.yaxis.axis_label_standoff = 18

    p.xgrid.grid_line_color = GRID
    p.xgrid.grid_line_width = 2
    p.xgrid.grid_line_dash = "12 8"
    p.xgrid.minor_grid_line_color = GRID
    p.xgrid.minor_grid_line_width = 2
    p.xgrid.minor_grid_line_dash = "12 8"
    p.ygrid.grid_line_color = GRID
    p.ygrid.grid_line_width = 2
    p.ygrid.grid_line_dash = "12 8"

    legend = Legend(items=[LegendItem(label="Predicted Pitch", renderers=[r_pred]),
                           LegendItem(label="Ground Truth", renderers=[r_gt])],
                    location=(FRAME_W - 2 - LEG_W, FRAME_H - 36 - LEG_H))
    legend.label_text_font = SANS
    legend.label_text_font_size = "46px"
    legend.label_text_color = "black"
    legend.glyph_width = 138
    legend.glyph_height = 50
    legend.label_height = 50
    legend.label_standoff = 29
    legend.spacing = 30
    legend.padding = 23
    legend.margin = 0
    legend.border_line_color = "#cccccc"
    legend.border_line_width = 3
    legend.background_fill_color = "white"
    legend.background_fill_alpha = 0.8
    p.add_layout(legend)
    return p


def make_caption(letter, seq, col_w, height, pad_top):
    html = ('<div style="font-family:\'Liberation Serif\';font-size:78px;line-height:1;'
            'color:black;text-align:center;width:1300px;padding-top:%dpx">'
            '(<b>%s</b>) Sequence %d</div>' % (pad_top, letter, seq))
    return Div(text=html, width=col_w, height=height, margin=0)


preds = [seq13_pred, seq14_pred, seq15_pred, seq16_pred, seq17_pred, seq18_pred]
gts = [seq13_gt, seq14_gt, seq15_gt, seq16_gt, seq17_gt, seq18_gt]

panels = []
captions = []
for i in range(6):
    cw = COL_W[i % 3]
    panels.append(make_panel(preds[i], gts[i], y_limits[i], y_tick_values[i], x_tick_values[i], cw))
    if i < 3:
        captions.append(make_caption(panel_letters[i], sequence_ids[i], cw, 335, 78))
    else:
        captions.append(make_caption(panel_letters[i], sequence_ids[i], cw, 170, 78))

page = column(row(panels[0], panels[1], panels[2]),
              row(captions[0], captions[1], captions[2]),
              row(panels[3], panels[4], panels[5]),
              row(captions[3], captions[4], captions[5]))

open("out.html", "w").write(file_html(page, INLINE))
